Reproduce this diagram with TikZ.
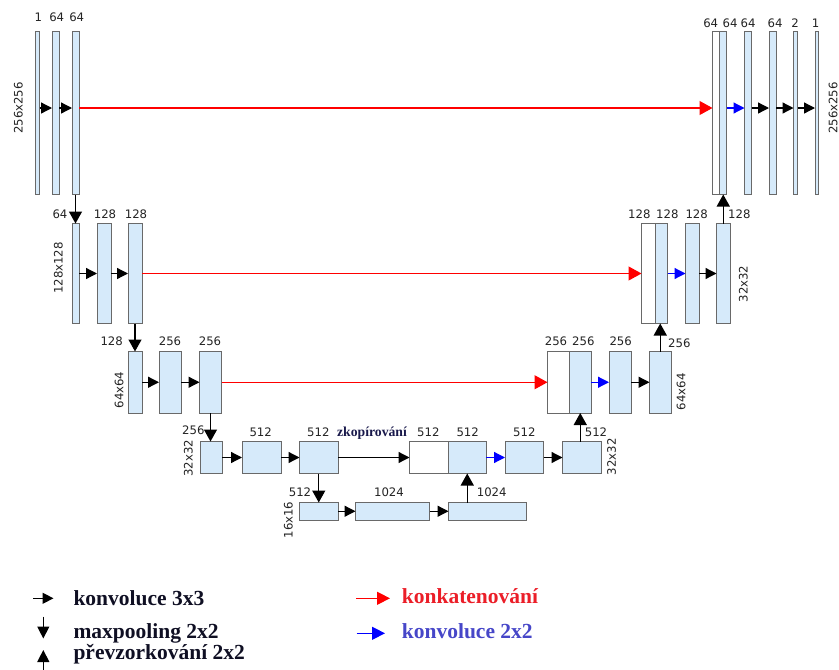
\documentclass[tikz,border=0pt]{standalone}
\usepackage{fontspec}
\usetikzlibrary{arrows.meta, positioning}
\newfontfamily\numfont{DejaVu Sans}
\newfontfamily\legfont{Liberation Serif}
\definecolor{boxbg}{RGB}{214,234,250}
\definecolor{boxbd}{RGB}{105,105,105}
\definecolor{copyred}{RGB}{255,0,0}
\definecolor{upblue}{RGB}{0,0,255}
\definecolor{lblcol}{RGB}{35,35,35}
\definecolor{legred}{RGB}{235,30,40}
\definecolor{legblue}{RGB}{70,70,200}
\definecolor{legtext}{RGB}{15,15,35}
\definecolor{copytext}{RGB}{25,25,75}

\begin{document}
\begin{tikzpicture}[
    x=1pt, y=-1pt,
    blk/.style    = {rectangle, draw=boxbd, fill=boxbg, line width=0.8pt,
                     inner sep=0pt, outer sep=0pt},
    emp/.style    = {blk, fill=white},
    lv1/.style    = {minimum height=163pt},
    lv2/.style    = {minimum height=100pt},
    lv3/.style    = {minimum height=61.5pt},
    lv4/.style    = {minimum height=32pt},
    lv5/.style    = {minimum height=17.5pt},
    num/.style    = {font=\numfont\fontsize{11.7}{13}\selectfont, text=lblcol,
                     inner sep=0pt},
    dim/.style    = {num, rotate=90},
    legend/.style = {anchor=base west, inner sep=0pt,
                     font=\legfont\bfseries\fontsize{21.5}{24}\selectfont},
    conv/.style   = {-{Triangle[length=11pt,width=11pt]}, line width=1.3pt},
    pool/.style   = {-{Triangle[length=12pt,width=13pt]}, line width=1.3pt},
    concat/.style = {-{Triangle[length=13pt,width=14pt]}, line width=1.2pt,
                     color=copyred},
    upconv/.style = {-{Triangle[length=11pt,width=11pt]}, line width=1.2pt,
                     color=upblue},
]
\useasboundingbox (0,0) rectangle (839,670);

% ── Level 1 (256x256) ───────────────────────────────────────────
\node[blk, lv1, minimum width=4pt] (e1a) at (37.5,113) {};
\node[blk, lv1, minimum width=7pt, right=12.5pt of e1a] (e1b) {};
\node[blk, lv1, minimum width=7pt, right=13pt of e1b] (e1c) {};

\node[emp, lv1, minimum width=7pt] (d1w) at (716,113) {};
\node[blk, lv1, minimum width=7pt, right=0pt of d1w] (d1b) {};
\node[blk, lv1, minimum width=7pt, right=18pt of d1b] (d1c) {};
\node[blk, lv1, minimum width=7pt, right=17.5pt of d1c] (d1d) {};
\node[blk, lv1, minimum width=4pt, right=17.5pt of d1d] (d1e) {};
\node[blk, lv1, minimum width=3pt, right=17.5pt of d1e] (d1f) {};

% ── Level 2 (128x128) ───────────────────────────────────────────
\node[blk, lv2, minimum width=7pt] (e2a) at (75.5,273.5) {};
\node[blk, lv2, minimum width=14pt, right=18pt of e2a] (e2b) {};
\node[blk, lv2, minimum width=14pt, right=17pt of e2b] (e2c) {};

\node[emp, lv2, minimum width=13.5pt] (d2w) at (648.25,273.5) {};
\node[blk, lv2, minimum width=12.5pt, right=0pt of d2w] (d2b) {};
\node[blk, lv2, minimum width=13.5pt, right=18pt of d2b] (d2c) {};
\node[blk, lv2, minimum width=13.5pt, right=17.5pt of d2c] (d2d) {};

% ── Level 3 (64x64) ─────────────────────────────────────────────
\node[blk, lv3, minimum width=14pt] (e3a) at (135,382.25) {};
\node[blk, lv3, minimum width=22pt, right=17pt of e3a] (e3b) {};
\node[blk, lv3, minimum width=22pt, right=18.5pt of e3b] (e3c) {};

\node[emp, lv3, minimum width=22pt] (d3w) at (558.5,382.25) {};
\node[blk, lv3, minimum width=21.5pt, right=0pt of d3w] (d3b) {};
\node[blk, lv3, minimum width=22pt, right=18pt of d3b] (d3c) {};
\node[blk, lv3, minimum width=21.5pt, right=18.5pt of d3c] (d3d) {};

% ── Level 4 (32x32) ─────────────────────────────────────────────
\node[blk, lv4, minimum width=22pt] (e4a) at (211,457.5) {};
\node[blk, lv4, minimum width=39pt, right=20pt of e4a] (e4b) {};
\node[blk, lv4, minimum width=38.5pt, right=18.5pt of e4b] (e4c) {};

\node[emp, lv4, minimum width=39pt] (d4w) at (429,457.5) {};
\node[blk, lv4, minimum width=37.5pt, right=0pt of d4w] (d4b) {};
\node[blk, lv4, minimum width=38.5pt, right=19pt of d4b] (d4c) {};
\node[blk, lv4, minimum width=38.5pt, right=19pt of d4c] (d4d) {};

% ── Level 5 (16x16) ─────────────────────────────────────────────
\node[blk, lv5, minimum width=38.5pt] (m5a) at (318.75,511.25) {};
\node[blk, lv5, minimum width=74pt, right=17.5pt of m5a] (m5b) {};
\node[blk, lv5, minimum width=77.5pt, right=19pt of m5b] (m5c) {};

% ── Channel counts ──────────────────────────────────────────────
\node[num] (n1a) at (38.3,17.5) {1};
\node[num] (n1b) at (56.7,17.5) {64};
\node[num] (n1c) at (76.7,17.5) {64};
\node[num] (n1d) at (710.7,22.8) {64};
\node[num] (n1e) at (730,22.8) {64};
\node[num] (n1f) at (748,22.8) {64};
\node[num] (n1g) at (775,22.8) {64};
\node[num] (n1h) at (795,22.8) {2};
\node[num] (n1i) at (815.7,22.8) {1};

\node[num] (n2a) at (60,214) {64};
\node[num] (n2b) at (105,214) {128};
\node[num] (n2c) at (136,214) {128};
\node[num] (n2d) at (639.3,214) {128};
\node[num] (n2e) at (667.3,214) {128};
\node[num] (n2f) at (696.7,214) {128};
\node[num] (n2g) at (739.3,214) {128};

\node[num] (n3a) at (111.7,341.7) {128};
\node[num] (n3b) at (170,341.7) {256};
\node[num] (n3c) at (210,341.7) {256};
\node[num] (n3d) at (556,341.7) {256};
\node[num] (n3e) at (583.3,341.7) {256};
\node[num] (n3f) at (620.7,341.7) {256};
\node[num] (n3g) at (679.3,343) {256};

\node[num] (n4a) at (193.3,430.7) {256};
\node[num] (n4b) at (260.7,432.7) {512};
\node[num] (n4c) at (318.3,432.7) {512};
\node[num] (n4d) at (428.3,432.7) {512};
\node[num] (n4e) at (467.7,432.7) {512};
\node[num] (n4f) at (524.3,432.7) {512};
\node[num] (n4g) at (596,432.7) {512};

\node[num] (n5a) at (300,492) {512};
\node[num] (n5b) at (389,492.7) {1024};
\node[num] (n5c) at (491.7,492.7) {1024};

% ── Image sizes ─────────────────────────────────────────────────
\node[dim] (s1l) at (18.3,108) {256x256};
\node[dim] (s2l) at (58.3,268) {128x128};
\node[dim] (s3l) at (119,390) {64x64};
\node[dim] (s4l) at (188.3,458.3) {32x32};
\node[dim] (s5)  at (288.3,520) {16x16};
\node[dim] (s4r) at (611.7,456.7) {32x32};
\node[dim] (s3r) at (681,391.7) {64x64};
\node[dim] (s2r) at (743.3,284) {32x32};
\node[dim] (s1r) at (833,108) {256x256};

% ── Convolutions 3x3 ────────────────────────────────────────────
\draw[conv] ([yshift=5pt]e1a.east) -- ([yshift=5pt]e1b.west);
\draw[conv] ([yshift=5pt]e1b.east) -- ([yshift=5pt]e1c.west);
\draw[conv] ([yshift=5pt]d1c.east) -- ([yshift=5pt]d1d.west);
\draw[conv] ([yshift=5pt]d1d.east) -- ([yshift=5pt]d1e.west);
\draw[conv] ([yshift=5pt]d1e.east) -- ([yshift=5pt]d1f.west);
\draw[conv] (e2a) -- (e2b);
\draw[conv] (e2b) -- (e2c);
\draw[conv] (d2c) -- (d2d);
\draw[conv] (e3a) -- (e3b);
\draw[conv] (e3b) -- (e3c);
\draw[conv] (d3c) -- (d3d);
\draw[conv] (e4a) -- (e4b);
\draw[conv] (e4b) -- (e4c);
\draw[conv] (d4c) -- (d4d);
\draw[conv] (m5a) -- (m5b);
\draw[conv] (m5b) -- (m5c);

% ── Max pooling and up-sampling ─────────────────────────────────
\draw[pool] (e1c.south) -- (e2a.north);
\draw[pool] (e2c.south) -- (e3a.north);
\draw[pool] (e3c.south) -- (e3c.south |- e4a.north);
\draw[pool] (e4c.south) -- (m5a.north);
\draw[pool] (m5c.north -| d4b.south) -- (d4b.south);
\draw[pool] (d4d.north -| d3b.south) -- (d3b.south);
\draw[pool] (d3d.north) -- (d3d.north |- d2b.south);
\draw[pool] (d2d.north) -- (d2d.north |- d1b.south);

% ── Skip connections ────────────────────────────────────────────
\draw[concat] ([yshift=5pt]e1c.east) -- ([yshift=5pt]d1w.west);
\draw[concat] (e2c) -- (d2w);
\draw[concat] (e3c) -- (d3w);
\draw[conv] (e4c) -- (d4w);
\node[anchor=base, inner sep=0pt, text=copytext,
      font=\legfont\bfseries\fontsize{13.7}{15}\selectfont] (cp) at (372,436.5)
    {zkopírování};

% ── Up-convolutions 2x2 ─────────────────────────────────────────
\draw[upconv] ([yshift=5pt]d1b.east) -- ([yshift=5pt]d1c.west);
\draw[upconv] (d2b) -- (d2c);
\draw[upconv] (d3b) -- (d3c);
\draw[upconv] (d4b) -- (d4c);

% ── Legend ──────────────────────────────────────────────────────
\coordinate (k1s) at (33,598.3);
\coordinate (k1e) at (53.5,598.3);
\coordinate (k2s) at (43.3,616.7);
\coordinate (k2e) at (43.3,638.5);
\coordinate (k3s) at (43.3,672);
\coordinate (k3e) at (43.3,650);
\coordinate (k4s) at (356,598.3);
\coordinate (k4e) at (390,598.3);
\coordinate (k5s) at (356.7,633.3);
\coordinate (k5e) at (385,633.3);

\draw[-{Triangle[length=11pt,width=11pt]}, line width=1.3pt] (k1s) -- (k1e);
\draw[-{Triangle[length=12pt,width=12pt]}, line width=1.3pt] (k2s) -- (k2e);
\draw[-{Triangle[length=12pt,width=12pt]}, line width=1.3pt] (k3s) -- (k3e);
\draw[-{Triangle[length=13pt,width=13pt]}, line width=1.2pt, color=copyred] (k4s) -- (k4e);
\draw[-{Triangle[length=13pt,width=13pt]}, line width=1.2pt, color=upblue] (k5s) -- (k5e);

\node[legend, text=legtext] (g1) at (73.3,605) {konvoluce 3x3};
\node[legend, text=legtext] (g2) at (73.3,638.3) {maxpooling 2x2};
\node[legend, text=legtext] (g3) at (73.3,659) {převzorkování 2x2};
\node[legend, text=legred] (g4) at (401.7,603.3) {konkatenování};
\node[legend, text=legblue] (g5) at (401.7,638.3) {konvoluce 2x2};

\end{tikzpicture}
\end{document}
